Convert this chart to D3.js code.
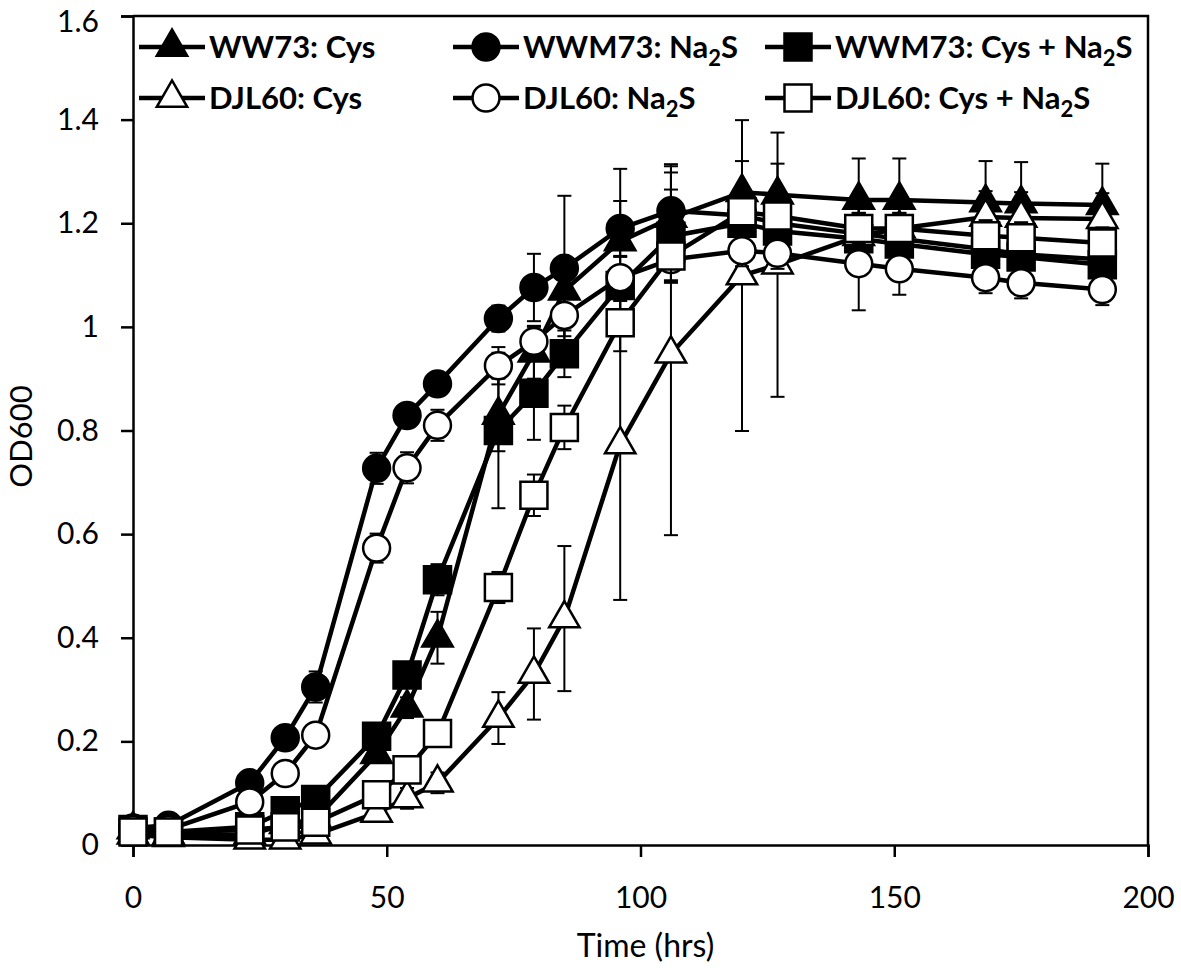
<!DOCTYPE html>
<html><head><meta charset="utf-8">
<script src="https://cdn.jsdelivr.net/npm/d3@7"></script>
<style>
body{margin:0;background:#fff}
svg{display:block}
text{font-family:Lato,"Open Sans",sans-serif;fill:#000}
</style>
</head><body>
<svg id="chart" width="1181" height="973"></svg>
<script>
// ---- data ----
const times = [0, 7, 23, 30, 36, 48, 54, 60, 72, 79, 85, 96, 106, 120, 127, 143, 151, 168, 175, 191];

const ww73Cys      = [0.03, 0.02, 0.02, 0.04, 0.05, 0.175, 0.265, 0.40, 0.83, 0.95, 1.07, 1.165, 1.21, 1.26, 1.255, 1.245, 1.245, 1.24, 1.238, 1.235];
const ww73CysErr   = [0, 0, 0, 0, 0, 0.01, 0.02, 0.05, 0.07, 0.05, 0.05, 0.14, 0.10, 0.06, 0.06, 0.08, 0.08, 0.08, 0.08, 0.08];

const wwm73Na2S    = [0.033, 0.038, 0.12, 0.207, 0.305, 0.727, 0.829, 0.89, 1.016, 1.076, 1.113, 1.19, 1.224, 1.215, 1.20, 1.18, 1.17, 1.15, 1.14, 1.13];
const wwm73Na2SErr = [0, 0, 0, 0, 0.03, 0.03, 0.02, 0.02, 0.025, 0.065, 0.14, 0.053, 0.09, 0.05, 0.05, 0.05, 0.05, 0.05, 0.05, 0.05];

const wwm73Both    = [0.03, 0.025, 0.035, 0.066, 0.088, 0.21, 0.328, 0.512, 0.80, 0.872, 0.948, 1.08, 1.175, 1.20, 1.185, 1.17, 1.16, 1.14, 1.135, 1.12];
const wwm73BothErr = [0, 0, 0, 0, 0, 0.02, 0.02, 0.03, 0.15, 0.09, 0.045, 0.03, 0.09, 0.05, 0.05, 0.05, 0.05, 0.05, 0.05, 0.05];

const djl60Cys     = [0.02, 0.015, 0.01, 0.01, 0.02, 0.062, 0.09, 0.12, 0.245, 0.33, 0.437, 0.773, 0.948, 1.099, 1.12, 1.175, 1.19, 1.212, 1.21, 1.208];
const djl60CysErr  = [0, 0, 0, 0, 0, 0.01, 0.02, 0.02, 0.05, 0.088, 0.14, 0.30, 0.35, 0.30, 0.255, 0.06, 0.05, 0.05, 0.05, 0.05];

const djl60Na2S    = [0.03, 0.03, 0.083, 0.138, 0.212, 0.573, 0.728, 0.81, 0.925, 0.972, 1.022, 1.095, 1.13, 1.147, 1.142, 1.122, 1.112, 1.095, 1.085, 1.072];
const djl60Na2SErr = [0, 0, 0, 0, 0, 0.028, 0.03, 0.03, 0.036, 0.03, 0.04, 0.04, 0.04, 0.03, 0.03, 0.09, 0.05, 0.03, 0.03, 0.03];

const djl60Both    = [0.025, 0.025, 0.029, 0.035, 0.044, 0.097, 0.145, 0.215, 0.497, 0.675, 0.806, 1.008, 1.137, 1.222, 1.214, 1.19, 1.19, 1.176, 1.172, 1.162];
const djl60BothErr = [0, 0, 0, 0, 0, 0.01, 0.02, 0.02, 0.03, 0.04, 0.042, 0.055, 0.05, 0.03, 0.03, 0.03, 0.03, 0.03, 0.03, 0.03];

const xTicks = [0, 50, 100, 150, 200];
const yTicks = [0, 0.2, 0.4, 0.6, 0.8, 1, 1.2, 1.4, 1.6];

// legend label parts: [main text, subscript, trailing]
const seriesLabels = [
  ["WW73: Cys", "", ""],
  ["WWM73: Na", "2", "S"],
  ["WWM73: Cys + Na", "2", "S"],
  ["DJL60: Cys", "", ""],
  ["DJL60: Na", "2", "S"],
  ["DJL60: Cys + Na", "2", "S"]
];
const seriesValues = [ww73Cys, wwm73Na2S, wwm73Both, djl60Cys, djl60Na2S, djl60Both];
const seriesErrors = [ww73CysErr, wwm73Na2SErr, wwm73BothErr, djl60CysErr, djl60Na2SErr, djl60BothErr];
const seriesShapes = ["triangle", "circle", "square", "triangle", "circle", "square"];
const seriesFills  = ["#000", "#000", "#000", "#fff", "#fff", "#fff"];

// ---- layout ----
const svg = d3.select("#chart");
const L = 133, R = 1148, T = 16, B = 845;
const x = d3.scaleLinear().domain([0, 200]).range([L, R]);
const y = d3.scaleLinear().domain([0, 1.6]).range([B, T]);

const symbolFor = s => {
  if (s === "triangle") return d3.symbol().type(d3.symbolTriangle).size(400)();
  if (s === "circle") return d3.symbol().type(d3.symbolCircle).size(570)();
  return d3.symbol().type(d3.symbolSquare).size(730)();
};

// axes
const xAxis = svg.append("g").attr("transform", `translate(0,${B})`)
  .call(d3.axisBottom(x).tickValues(xTicks).tickSize(12).tickPadding(30).tickFormat(d3.format("d")));
const yAxis = svg.append("g").attr("transform", `translate(${L},0)`)
  .call(d3.axisLeft(y).tickValues(yTicks).tickSize(12).tickPadding(22).tickFormat(d => d3.format("")(+d.toFixed(1))));
[xAxis, yAxis].forEach(g => {
  g.selectAll("path.domain").attr("stroke", "#000").attr("stroke-width", 2.5);
  g.selectAll(".tick line").attr("stroke", "#000").attr("stroke-width", 2.5);
  g.selectAll("text").style("font-size", "30px").attr("fill", "#000");
});
// keep the top label inside the picture
yAxis.selectAll(".tick text").filter(d => d === 1.6).attr("dy", "0.5em");

// frame (top + right)
svg.append("path")
  .attr("d", `M${L},${T}H${R}V${B}`)
  .attr("fill", "none").attr("stroke", "#000").attr("stroke-width", 2.5);

// axis titles
svg.append("text").attr("x", (L + R) / 2 + 5).attr("y", 957).attr("text-anchor", "middle")
  .style("font-size", "32px").text("Time (hrs)");
svg.append("text").attr("transform", `translate(32,${(T + B) / 2 + 6}) rotate(-90)`)
  .attr("text-anchor", "middle").style("font-size", "31px").text("OD600");

// series
const line = d3.line().x((d, i) => x(times[i])).y(d => y(d));
seriesValues.forEach((vals, si) => {
  const g = svg.append("g");
  const errs = seriesErrors[si];
  // error bars
  const eb = g.selectAll("g.eb").data(vals.map((v, i) => ({t: times[i], v, e: errs[i]})).filter(d => d.e > 0))
    .enter().append("g").attr("stroke", "#000").attr("stroke-width", 2);
  eb.append("line").attr("x1", d => x(d.t)).attr("x2", d => x(d.t)).attr("y1", d => y(d.v - d.e)).attr("y2", d => y(d.v + d.e));
  eb.append("line").attr("x1", d => x(d.t) - 7).attr("x2", d => x(d.t) + 7).attr("y1", d => y(d.v + d.e)).attr("y2", d => y(d.v + d.e));
  eb.append("line").attr("x1", d => x(d.t) - 7).attr("x2", d => x(d.t) + 7).attr("y1", d => y(d.v - d.e)).attr("y2", d => y(d.v - d.e));
  // line
  g.append("path").datum(vals).attr("d", line).attr("fill", "none").attr("stroke", "#000").attr("stroke-width", 4.5);
  // markers
  g.selectAll("path.m").data(vals).enter().append("path")
    .attr("d", symbolFor(seriesShapes[si]))
    .attr("transform", (d, i) => `translate(${x(times[i])},${y(d)})`)
    .attr("fill", seriesFills[si]).attr("stroke", "#000").attr("stroke-width", 2.5);
});

// legend
const colX = [139, 453, 765];
const rowY = [47, 98];
seriesLabels.forEach((lab, i) => {
  const cx = colX[i % 3], cy = rowY[Math.floor(i / 3)];
  const g = svg.append("g");
  g.append("line").attr("x1", cx).attr("x2", cx + 66).attr("y1", cy).attr("y2", cy)
    .attr("stroke", "#000").attr("stroke-width", 4.5);
  g.append("path").attr("d", symbolFor(seriesShapes[i]))
    .attr("transform", `translate(${cx + 33},${cy})`)
    .attr("fill", seriesFills[i]).attr("stroke", "#000").attr("stroke-width", 2.5);
  const t = g.append("text").attr("x", cx + 70).attr("y", cy + 11)
    .style("font-size", "31px").style("font-weight", "bold");
  t.append("tspan").text(lab[0]);
  if (lab[1]) {
    t.append("tspan").attr("dy", 8).style("font-size", "22px").text(lab[1]);
    t.append("tspan").attr("dy", -8).text(lab[2]);
  }
});
</script>
</body></html>
